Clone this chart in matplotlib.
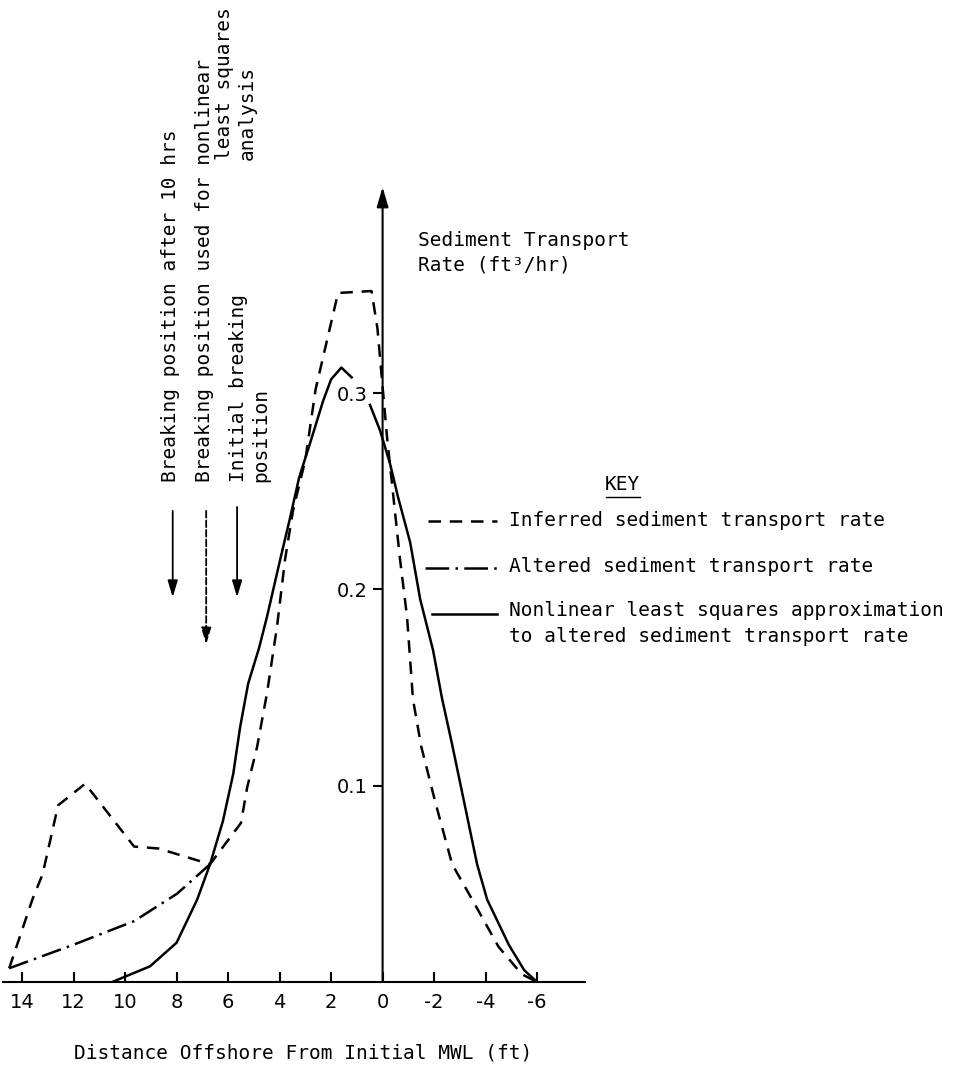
import numpy as np
import matplotlib
matplotlib.use('Agg')
import matplotlib.pyplot as plt
from matplotlib.lines import Line2D

# Distance offshore (ft) and sediment transport rate (ft^3/hr)
inferred_x = [14.5, 13.6, 13.2, 12.6, 11.55, 9.65, 8.7, 6.7, 5.5, 5.26, 4.87,
              4.49, 4.1, 3.79, 3.48, 3.0, 2.6, 1.73, 0.43, 0.2, -0.17, -0.68,
              -0.95, -1.18, -1.5, -2.04, -2.7, -3.48, -4.5, -5.4, -6.0]
inferred_y = [0.007, 0.042, 0.055, 0.090, 0.101, 0.069, 0.068, 0.060, 0.081,
              0.099, 0.120, 0.147, 0.181, 0.215, 0.240, 0.266, 0.302, 0.351,
              0.352, 0.333, 0.278, 0.215, 0.186, 0.144, 0.120, 0.092, 0.060,
              0.042, 0.018, 0.004, 0.0]

altered_x = [14.5, 12.0, 9.65, 7.98, 6.7]
altered_y = [0.007, 0.019, 0.031, 0.045, 0.060]

fit_x = [10.5, 9.03, 8.0, 7.2, 6.7, 6.2, 5.8, 5.53, 5.22, 4.8, 4.49, 3.98,
         3.6, 3.24, 2.78, 2.31, 2.0, 1.6, 1.2, np.nan,
         0.49, 0.10, -0.29, -0.60, -1.07, -1.46, -1.96, -2.3, -2.7, -3.05,
         -3.67, -4.06, -4.9, -5.5, -6.0]
fit_y = [0.0, 0.008, 0.020, 0.042, 0.060, 0.082, 0.106, 0.130, 0.152, 0.170,
         0.186, 0.215, 0.236, 0.257, 0.276, 0.296, 0.307, 0.313, 0.308, np.nan,
         0.294, 0.281, 0.264, 0.247, 0.224, 0.195, 0.169, 0.145, 0.121, 0.099,
         0.060, 0.042, 0.019, 0.006, 0.0]

xticks = [14, 12, 10, 8, 6, 4, 2, 0, -2, -4, -6]
xtick_labels = ['14', '12', '10', '8', '6', '4', '2', '0', '-2', '-4', '-6']
yticks = [0.1, 0.2, 0.3]
ytick_labels = ['0.1', '0.2', '0.3']

# breaking positions (x, top, bottom)
break_x = [8.15, 6.85, 5.65]
break_top = [0.240, 0.240, 0.242]
break_bot = [0.196, 0.172, 0.196]

W, H = 956, 1068
mono = 'DejaVu Sans Mono'
fs = 14

def fx(p):
    return p / W

def fy(p):
    return 1 - p / H

fig = plt.figure(figsize=(W / 100, H / 100), dpi=100)
ax = fig.add_axes([fx(3), fy(982), fx(585) - fx(3), (982 - 150) / H])
ax.set_xlim(14.74, -7.86)
ax.set_ylim(0, (982 - 150) / 1963)

lw = 1.8
ax.plot(inferred_x, inferred_y, color='black', lw=lw, dashes=(5, 3.5))
ax.plot(altered_x, altered_y, color='black', lw=lw, dashes=(8, 2.5, 1, 2.5))
ax.plot(fit_x, fit_y, color='black', lw=lw)

# axes
for s in ['top', 'right']:
    ax.spines[s].set_visible(False)
ax.spines['bottom'].set_linewidth(1.5)
ax.spines['left'].set_position(('data', 0))
ax.spines['left'].set_visible(False)
ax.annotate('', xy=(0, 0.405), xytext=(0, 0), xycoords='data',
            arrowprops=dict(arrowstyle='-|>,head_length=1.2,head_width=0.35',
                            color='black', lw=1.5, shrinkA=0, shrinkB=0))

ax.set_xticks(xticks)
ax.set_xticklabels(xtick_labels)
ax.set_yticks(yticks)
ax.set_yticklabels(ytick_labels)
ax.tick_params(axis='x', direction='in', length=7, width=1.5, pad=8,
               labelsize=14)
ax.tick_params(axis='y', direction='out', length=7, width=1.5, pad=4,
               labelsize=14)

# breaking position arrows
for i, (bx, t, b) in enumerate(zip(break_x, break_top, break_bot)):
    ls = '--' if i == 1 else '-'
    ax.annotate('', xy=(bx, b), xytext=(bx, t),
                arrowprops=dict(arrowstyle='-|>,head_length=1.0,head_width=0.3',
                                color='black', lw=1.3, linestyle=ls,
                                shrinkA=0, shrinkB=0))

# rotated labels
rot = dict(rotation=90, ha='center', va='bottom', family=mono, fontsize=fs)
fig.text(fx(171), fy(482), 'Breaking position after 10 hrs', **rot)
fig.text(fx(204), fy(482), 'Breaking position used for nonlinear', **rot)
fig.text(fx(225), fy(160), 'least squares', **rot)
fig.text(fx(247), fy(160), 'analysis', **rot)
fig.text(fx(238), fy(482), 'Initial breaking', **rot)
fig.text(fx(261), fy(482), 'position', **rot)

# y axis title
fig.text(fx(418), fy(240), 'Sediment Transport', family=mono, fontsize=fs,
         va='center', ha='left')
fig.text(fx(418), fy(265), 'Rate (ft\u00b3/hr)', family=mono, fontsize=fs,
         va='center', ha='left')

# x axis title
fig.text(fx(303), fy(1053), 'Distance Offshore From Initial MWL (ft)',
         family=mono, fontsize=fs, va='center', ha='center')

# key
fig.text(fx(622), fy(484), 'KEY', family=mono, fontsize=fs,
         va='center', ha='center')
fig.add_artist(Line2D([fx(606), fx(640)], [fy(497), fy(497)], color='black',
                      lw=1))
fig.add_artist(Line2D([fx(428), fx(497)], [fy(521), fy(521)], color='black',
                      lw=lw, dashes=(5, 3.5)))
fig.add_artist(Line2D([fx(425), fx(497)], [fy(568), fy(568)], color='black',
                      lw=lw, dashes=(9.5, 2.5, 1, 2.5)))
fig.add_artist(Line2D([fx(432), fx(497)], [fy(614), fy(614)], color='black',
                      lw=lw))
fig.text(fx(509), fy(520), 'Inferred sediment transport rate', family=mono,
         fontsize=fs, va='center', ha='left')
fig.text(fx(509), fy(567), 'Altered sediment transport rate', family=mono,
         fontsize=fs, va='center', ha='left')
fig.text(fx(509), fy(611), 'Nonlinear least squares approximation',
         family=mono, fontsize=fs, va='center', ha='left')
fig.text(fx(509), fy(637), 'to altered sediment transport rate',
         family=mono, fontsize=fs, va='center', ha='left')

fig.savefig('out.png', dpi=100)
